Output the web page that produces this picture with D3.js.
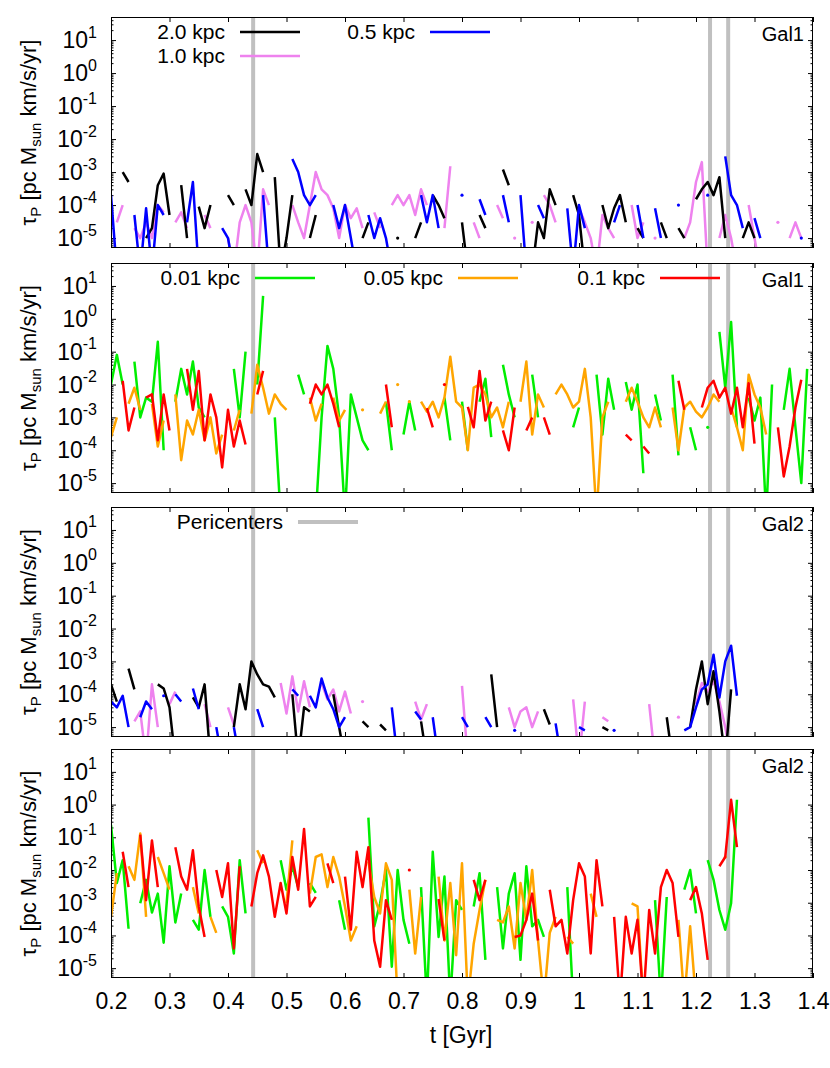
<!DOCTYPE html>
<html>
<head>
<meta charset="utf-8">
<script src="https://cdn.jsdelivr.net/npm/d3@7"></script>
<style>
body { margin: 0; background: #fff; }
svg { display: block; font-family: "Liberation Sans", Arial, sans-serif; }
</style>
</head>
<body>
<div id="chart"></div>
<script>
var _ = null;

// time grid of the series: t = tStart + i*tStep (Gyr)
var tStart = 0.2, tStep = 0.01;
var pericenters = [0.443, 1.224, 1.255];
var xTicks = [0.2, 0.3, 0.4, 0.5, 0.6, 0.7, 0.8, 0.9, 1.0, 1.1, 1.2, 1.3, 1.4];
var xTickLabels = ["0.2", "0.3", "0.4", "0.5", "0.6", "0.7", "0.8", "0.9", "1", "1.1", "1.2", "1.3", "1.4"];
var yExponents = [1, 0, -1, -2, -3, -4, -5];

// ---- Gal1, large radii ----
var gal1_r2p0 = [
  _, _, 1e-3, 5e-4, _, _, 1e-5, 2e-5, 4e-4, 9e-4,
  5e-5, _, 4e-4, 1e-5, _, 9e-5, 2e-5, 1e-4, _, _,
  2e-4, 1e-4, _, 3e-4, 1e-4, 3.5e-3, 1e-3, _, 7e-4, 1e-6,
  1e-5, 2e-4, _, _, 1e-5, 5e-5, _, _, _, _,
  _, _, _, 1e-5, 3e-5, _, _, _, _, 1e-5,
  _, _, 1e-5, 3e-5, _, 2e-4, 1e-4, 4e-5, _, _,
  3e-5, 1e-6, _, 5e-5, 2e-5, _, _, 1.2e-3, 4e-4, _,
  _, _, 1e-6, 3e-5, 1e-5, 3e-4, 1e-4, _, _, 2e-4,
  5e-5, 1e-6, _, _, 1e-4, 2e-5, 8e-5, 2e-4, 3e-5, _,
  2e-5, 1e-5, _, _, 3e-5, 1e-5, _, 2e-5, 1e-5, _,
  1.5e-4, 3e-4, 5e-4, 2e-4, 7e-4, 1e-5, _, _, 1e-5, 3e-5,
  1e-5, _, _, _, _, _, _, _, _, _
];
var gal1_r1p0 = [
  _, 3e-5, 1e-4, _, 2e-5, 1e-5, 3e-5, 1e-5, 1e-4, 6e-5,
  _, 3e-5, 6e-5, 2e-5, _, _, 5e-5, 2e-5, _, _,
  1e-5, 1e-6, 3e-5, 1e-4, 3e-5, 1e-6, 3e-4, 1e-4, _, _,
  _, 1e-4, 3e-5, 1e-5, 1e-4, 1e-3, 3e-4, 2e-4, 8e-5, 1e-5,
  1e-4, 4e-5, 8e-5, 2e-5, _, 6e-5, 2e-5, _, 1e-4, 2e-4,
  1e-4, 2e-4, 5e-5, 3e-4, 1e-4, _, _, 2e-5, 1.5e-3, _,
  _, _, 3e-5, 1e-5, _, _, 1e-4, 4e-5, _, 1e-5,
  _, _, 3e-5, _, 2e-4, 1e-4, 3e-5, _, _, _,
  8e-5, 3e-5, 1e-5, 1e-6, 5e-5, 2e-5, 1e-5, _, _, 1e-4,
  1e-5, 3e-5, _, 1e-5, _, _, _, _, 1e-5, 3e-5,
  5e-4, 2e-3, 1e-6, _, 1e-5, 5e-5, 1e-5, 1e-6, _, 1e-4,
  1e-5, 1e-6, _, _, 3e-5, _, 1e-5, 3e-5, 1e-5, _
];
var gal1_r0p5 = [
  2e-4, 1e-6, _, _, 5e-5, 1e-6, 8e-5, 1e-6, 1e-4, 5e-5,
  _, 1e-6, _, 3e-5, 5e-4, 1e-6, _, _, _, 2e-5,
  1e-5, 1e-6, _, _, _, _, 2e-4, 1e-6, _, _,
  _, 2.5e-3, 1e-3, 2e-4, 1e-4, 2e-4, _, _, 1e-4, 2e-5,
  1e-4, 1e-5, 1e-6, _, 5e-5, 1e-5, 4e-5, 1e-5, 1e-6, _,
  _, _, _, 2e-4, 3e-5, 2e-4, 2e-5, _, _, _,
  2e-4, _, _, 1.5e-4, 5e-5, _, _, 2e-4, 3e-5, _,
  2e-4, 1e-6, _, 1e-4, 4e-5, _, _, _, 8e-5, 1e-6,
  1e-4, 2e-5, _, _, _, _, 3e-5, 1e-4, _, _,
  1e-4, 1e-5, _, 8e-5, 1e-5, _, _, 1e-4, _, _,
  _, _, 2e-4, _, _, 3e-3, 2e-4, 1e-4, 2e-5, _,
  4e-5, 1e-5, _, _, _, _, _, _, 1e-5, _
];

// ---- Gal1, small radii ----
var gal1_r0p01 = [
  1e-2, 8e-2, 1e-2, _, 5e-2, 1e-3, 4e-3, 3e-3, 2e-1, 1e-4,
  _, 3e-3, 3e-2, 5e-3, 5e-2, 2e-3, 1e-3, _, _, _,
  _, 3e-2, 1e-3, 1e-1, _, 1e-2, 5, _, 1e-3, 1e-6,
  _, _, 2e-2, 5e-3, _, 1e-6, 1e-3, 1.5e-1, 3e-2, 1e-3,
  1e-6, 5e-3, 1e-3, 2e-4, 1e-4, _, _, 3e-3, 1e-4, _,
  3e-4, 3e-3, 4e-4, _, _, _, _, 4e-3, 2e-4, _,
  3e-3, 1e-4, _, 3e-3, 1.5e-2, 2.5e-4, _, 4e-2, 5e-3, 1e-3,
  _, _, 2e-2, 1e-3, _, _, _, _, _, 5e-4,
  2e-3, _, _, 2e-2, 3e-4, 1.5e-2, 1.7e-3, _, 1.2e-2, 1.7e-3,
  1e-2, 2e-5, _, 5e-3, 8e-4, _, 2e-2, 7e-5, _, 5e-4,
  1e-4, _, 5e-4, _, 4e-1, 8e-3, 8e-1, 5e-4, _, 4e-3,
  8e-4, 4e-3, 1e-6, 1e-2, _, 1.7e-3, 3e-2, 5e-4, 1e-5, 3e-2
];
var gal1_r0p05 = [
  2.5e-4, 1e-3, _, 2.6e-3, 8e-3, 1.7e-3, _, 2.6e-3, 1.3e-4, 8e-4,
  _, 5e-3, 5e-5, 8e-4, 3e-4, 1.7e-3, 2e-4, 1e-3, 8e-5, 3e-4,
  _, 4e-4, 1.7e-3, _, 1.3e-3, 4e-2, 8e-3, 1.3e-3, 5e-3, 2.6e-3,
  1.7e-3, _, _, _, 4e-3, 8e-4, 2.6e-3, _, 4e-3, 8e-4,
  1.7e-3, _, _, 1.7e-3, _, _, 1.3e-3, 3e-3, _, 1e-2,
  _, 3e-3, _, 3e-3, 1.5e-3, 3e-3, 1e-3, 4e-3, 7e-2, 3e-3,
  2e-3, 1e-4, 8e-3, 1e-2, 5e-3, 1e-3, 2e-3, 5e-4, 3e-3, _,
  3e-3, 5e-2, 3e-4, 5e-3, 2e-3, _, 5e-3, 1e-2, 5e-3, 2e-3,
  3e-3, 3e-2, 1e-3, 1e-6, 1e-3, 3e-3, _, _, 3e-3, 8e-3,
  3e-3, 1e-3, 5e-4, 2e-3, 5e-4, _, 2e-3, 1e-4, 2e-3, 3e-3,
  1.5e-3, 1e-3, 2e-3, 5e-3, 3e-3, _, 2e-3, 5e-4, 1e-4, 2e-2,
  5e-3, 2e-3, 3e-4, _, _, _, _, _, _, _
];
var gal1_r0p1 = [
  _, _, 1.3e-2, 4e-4, 2e-3, _, 4e-3, 5e-3, 2e-4, 5e-3,
  4e-4, _, _, 3e-2, 1.7e-3, 2.6e-2, 2e-4, 5e-3, 1e-3, 3e-5,
  1.7e-3, 1.3e-4, 8e-4, 1.5e-4, _, 5e-3, 2.6e-2, _, _, _,
  _, _, _, _, 2.6e-3, 1e-2, 5e-3, 1e-2, 2.6e-3, 5e-4,
  _, _, _, _, _, _, _, 1e-2, 5e-4, _,
  _, _, _, _, 1.9e-3, 5e-4, _, 1e-2, _, _,
  _, 2.1e-3, 5e-4, 2.6e-2, 8e-4, 3e-3, _, 4e-4, 1e-4, 2e-3,
  _, 4e-4, 1e-3, _, 1e-3, 3e-4, _, _, _, _,
  _, _, _, _, _, _, _, _, 3e-4, 2e-4,
  _, 1.3e-4, 8e-5, _, _, _, _, 1.3e-2, 1.7e-3, _,
  _, 2e-3, 8e-3, 1.3e-2, 4e-3, 8e-3, 1.3e-3, 8e-3, 5e-4, 1.1e-2,
  1.6e-4, _, _, _, 5e-4, 1.6e-5, 1.3e-4, 2e-3, 1.4e-2, _
];

// ---- Gal2, large radii ----
var gal2_r2p0 = [
  2e-4, 6e-5, _, 6e-4, 1.4e-4, _, _, _, 2e-4, 1.5e-4,
  4e-5, 1e-6, _, _, 8e-5, 4e-5, 2e-4, 1e-6, _, _,
  _, 1e-5, 2e-4, 3.5e-5, 1e-3, 4e-4, 2e-4, 1.7e-4, 8e-5, _,
  _, 1e-4, 1e-6, 4e-5, 3e-5, _, _, _, 1e-4, 1e-5,
  1e-6, _, _, 1.5e-5, 1e-5, _, 1.2e-5, 8e-6, _, _,
  _, _, _, 1.5e-5, 1e-6, _, _, _, _, _,
  _, _, _, _, _, 4e-4, 1e-5, _, _, _,
  _, _, _, _, 3.5e-5, 1.2e-5, _, _, _, _,
  _, _, _, _, 1e-5, 8e-6, _, _, _, _,
  _, _, _, _, _, 2e-5, 1e-6, _, _, 1e-5,
  1.4e-4, 1e-3, 5e-5, 5e-4, 3e-5, 1e-6, 1.4e-4
];
var gal2_r1p0 = [
  _, _, _, _, 1.5e-5, 3e-5, 1e-6, 2e-4, 1e-5, _,
  5e-5, 1.2e-4, _, _, _, _, 5e-5, 1e-5, _, _,
  4e-5, 1.2e-5, _, _, _, _, _, _, _, 2.2e-4,
  2.6e-5, 3.5e-4, 3e-5, 2.5e-4, 4e-5, _, 2.2e-4, 7e-5, 1.4e-4, 3e-5,
  1.2e-4, 2.6e-5, _, 6e-5, _, _, _, _, _, _,
  _, _, 6e-5, 1.7e-5, 5e-5, _, _, _, _, _,
  1.8e-4, 1e-6, _, _, _, _, _, _, 4e-5, 1e-5,
  3e-5, 4e-5, 1e-5, 3e-5, _, _, _, _, _, 7e-5,
  1e-6, 6e-5, _, _, 2e-5, 1.5e-5, _, _, _, _,
  _, _, 5e-5, 1e-6, _, _, _, 2e-5, _, _,
  5e-5, 2.2e-4, 1.2e-4, 2.6e-4, 6e-5, 1e-5, 1e-6
];
var gal2_r0p5 = [
  6e-5, 4e-5, 9e-5, 1e-5, _, 2e-5, 6e-5, 3.5e-5, _, 9e-5,
  _, 1e-4, 6e-5, _, 1.5e-4, 3.5e-5, _, _, 1e-5, 1e-6,
  _, 1e-5, 1e-6, _, _, 3.5e-5, 1e-5, _, _, _,
  _, 1.4e-4, 9e-5, _, 9e-5, 4e-5, 3e-4, 8e-5, 3.5e-5, 1e-5,
  2e-5, _, _, _, _, _, _, _, 4e-5, 1e-6,
  _, _, 3e-5, 1.7e-5, _, 2e-5, 1e-6, _, _, _,
  2e-5, 1e-5, _, _, 2e-5, 1e-5, _, _, _, 8e-6,
  _, _, _, _, _, _, 1.3e-5, 1e-6, _, _,
  1e-5, 8e-6, _, _, _, _, 8e-6, _, _, _,
  _, _, _, _, _, _, _, _, 8e-6, 1e-5,
  4e-5, 1.4e-4, 2e-4, 1.6e-3, 8e-5, 1e-3, 3e-3, 9e-5
];

// ---- Gal2, small radii ----
var gal2_r0p01 = [
  2.4e-1, 4e-3, 2e-2, 1.6e-4, _, 9.6e-4, 5e-3, 5e-4, 1.9e-3, 6e-5,
  1.3e-2, 2.5e-4, 1.9e-3, _, 3e-4, 1.5e-4, 1e-2, 3.7e-4, _, 7.7e-4,
  3.7e-4, 2.8e-5, 2e-2, 4.7e-4, _, _, _, _, _, 2e-2,
  2.5e-3, 1.3e-2, 3e-3, _, 4e-3, 2e-3, _, _, _, 1.2e-3,
  1.5e-4, _, _, _, 4e-1, 1.9e-4, 9.6e-4, 1e-2, 1.1e-5, 1e-2,
  3e-4, 5.6e-5, _, 3e-3, 1e-6, 3.6e-2, 9e-5, 6.3e-3, 1e-6, 1.2e-3,
  6e-4, _, 7.7e-4, 8e-3, 1.8e-5, _, 3e-3, 4e-5, 1.9e-3, 8e-3,
  1.8e-5, 1.3e-2, 1.9e-4, 3e-4, 9e-5, _, _, _, 3e-3, 1e-6,
  _, _, _, _, _, _, _, _, _, _,
  _, _, _, 1.2e-3, 1e-6, 1.5e-3, _, _, 2.5e-3, 1e-2,
  4.7e-4, _, 2e-2, 5e-3, 6e-4, 1.5e-4, 9.6e-4, 1.4
];
var gal2_r0p05 = [
  3.7e-4, 8e-3, _, 1.3e-2, 5e-3, 1.3e-1, 3.7e-4, _, 2.5e-2, 8e-3,
  2.5e-3, _, _, _, 3e-3, 4.7e-4, _, 3.7e-4, 1.2e-4, _,
  _, _, _, _, _, 4e-2, 1.6e-2, _, _, _,
  9.6e-4, 8e-2, _, _, 1.9e-3, 2.5e-2, 3e-2, 3e-3, 2.5e-2, 6.3e-3,
  7.7e-4, 7e-5, 1.9e-4, _, 1.8e-2, 1.5e-3, 4.7e-4, 1.6e-2, 5e-3, 1e-6,
  _, 2.5e-3, 2.8e-5, 1.5e-3, _, _, 6.3e-3, 7e-5, 4e-3, 2.5e-5,
  1.6e-2, 1e-6, 5.6e-5, 6e-4, 5e-3, _, 3e-4, 2.5e-4, 7.7e-4, 4e-5,
  4e-3, 3e-4, 1e-2, 7e-5, 1e-6, 1.2e-4, 3.7e-4, _, 9e-5, 5.6e-5,
  _, _, 1.9e-3, 3.7e-4, _, _, _, _, _, 9.6e-4,
  7.7e-4, 1e-6, _, _, _, _, _, 3e-4, 1e-6, 1.9e-4,
  1e-6, _, _, _, _, 2.5e-2
];
var gal2_r0p1 = [
  _, _, 3.6e-2, 3e-3, _, 1.2e-1, 1.2e-3, 8e-2, 3e-3, _,
  _, 5e-2, 6.3e-3, 2.5e-3, 4e-2, 7.7e-4, 9e-5, _, 1e-2, 1.5e-3,
  1.6e-2, 4e-5, 1.3e-2, _, 7.7e-4, 8e-3, 2.8e-2, 6.3e-3, 3.7e-4, 4e-3,
  4.7e-4, 2.5e-2, 2.5e-3, 1.8e-1, 7.7e-4, 1.5e-3, _, 1.6e-2, 4e-3, _,
  6.3e-3, 1.5e-4, 3.6e-2, 3e-3, 5e-2, 7e-5, 1.1e-5, 1.2e-3, 3e-4, _,
  _, 1e-2, _, _, _, _, 1.3e-3, 7e-5, _, _,
  _, _, 5e-3, 1.2e-3, 5e-3, _, _, _, _, 9e-5,
  1e-4, 3e-4, 1.9e-3, 7e-5, _, 2.5e-3, 1.9e-4, 3e-4, 2.8e-5, 1.2e-3,
  1.6e-2, 6.3e-3, 2.8e-5, 2e-2, 7.7e-4, _, 3.7e-4, 1e-6, 3.7e-4, 2.8e-5,
  3e-4, 1e-6, 6e-4, 2.8e-5, 3e-3, 1e-2, 4e-3, 9e-5, _, 1.2e-3,
  3e-3, 4.7e-4, 1.8e-5, _, 1.3e-2, 2.5e-2, 1.4, 5e-2
];

var C = {black: "#000000", violet: "#ee82ee", blue: "#0000ff",
         green: "#00ee00", orange: "#ffa500", red: "#ff0000", peri: "#c0c0c0"};

var panels = [
  { top: 17, bottom: 248, tag: "Gal1",
    series: [
      {name: "1.0 kpc", color: C.violet, values: gal1_r1p0},
      {name: "2.0 kpc", color: C.black, values: gal1_r2p0},
      {name: "0.5 kpc", color: C.blue, values: gal1_r0p5}],
    legend: [
      {text: "2.0 kpc", color: C.black, x: 225, row: 0},
      {text: "1.0 kpc", color: C.violet, x: 225, row: 1},
      {text: "0.5 kpc", color: C.blue, x: 415, row: 0}] },
  { top: 263, bottom: 493, tag: "Gal1",
    series: [
      {name: "0.01 kpc", color: C.green, values: gal1_r0p01},
      {name: "0.05 kpc", color: C.orange, values: gal1_r0p05},
      {name: "0.1 kpc", color: C.red, values: gal1_r0p1}],
    legend: [
      {text: "0.01 kpc", color: C.green, x: 240, row: 0},
      {text: "0.05 kpc", color: C.orange, x: 443, row: 0},
      {text: "0.1 kpc", color: C.red, x: 645, row: 0}] },
  { top: 507, bottom: 737, tag: "Gal2",
    series: [
      {name: "1.0 kpc", color: C.violet, values: gal2_r1p0},
      {name: "2.0 kpc", color: C.black, values: gal2_r2p0},
      {name: "0.5 kpc", color: C.blue, values: gal2_r0p5}],
    legend: [
      {text: "Pericenters", color: C.peri, x: 283, row: 0, w: 4}] },
  { top: 749, bottom: 978, tag: "Gal2",
    series: [
      {name: "0.01 kpc", color: C.green, values: gal2_r0p01},
      {name: "0.05 kpc", color: C.orange, values: gal2_r0p05},
      {name: "0.1 kpc", color: C.red, values: gal2_r0p1}],
    legend: [] }
];

var width = 830, height = 1068;
var x0 = 111, x1 = 813;

var svg = d3.select("#chart").append("svg")
    .attr("width", width)
    .attr("height", height);

var x = d3.scaleLinear().domain([0.2, 1.4]).range([x0, x1]);

var majorY = yExponents.map(function(e){ return Math.pow(10, e); });
var minorY = [];
for (var e = -6; e <= 1; e++) {
  for (var m = 2; m <= 9; m++) {
    var v = m * Math.pow(10, e);
    if (v > 5e-6 && v < 50) minorY.push(v);
  }
}

panels.forEach(function(p, pi){
  var y = d3.scaleLog().domain([5e-6, 50]).range([p.bottom, p.top]);
  var g = svg.append("g");

  var clipId = "clip" + pi;
  svg.append("clipPath").attr("id", clipId)
    .append("rect")
      .attr("x", x0).attr("y", p.top)
      .attr("width", x1 - x0).attr("height", p.bottom - p.top);

  // pericenter passages
  g.selectAll(".peri").data(pericenters).enter().append("line")
      .attr("x1", function(d){ return x(d); })
      .attr("x2", function(d){ return x(d); })
      .attr("y1", p.top).attr("y2", p.bottom)
      .attr("stroke", C.peri).attr("stroke-width", 4);

  // ticks (inward, mirrored)
  var noDomain = function(s){ s.select(".domain").remove(); };
  g.append("g").attr("transform", "translate(" + x0 + ",0)")
    .call(d3.axisLeft(y).tickValues(majorY).tickSize(-5).tickFormat("")).call(noDomain);
  g.append("g").attr("transform", "translate(" + x0 + ",0)")
    .call(d3.axisLeft(y).tickValues(minorY).tickSize(-2.5).tickFormat("")).call(noDomain);
  g.append("g").attr("transform", "translate(" + x1 + ",0)")
    .call(d3.axisRight(y).tickValues(majorY).tickSize(-5).tickFormat("")).call(noDomain);
  g.append("g").attr("transform", "translate(" + x1 + ",0)")
    .call(d3.axisRight(y).tickValues(minorY).tickSize(-2.5).tickFormat("")).call(noDomain);
  g.append("g").attr("transform", "translate(0," + p.top + ")")
    .call(d3.axisTop(x).tickValues(xTicks).tickSize(-5).tickFormat("")).call(noDomain);
  var bottomAxis = g.append("g").attr("transform", "translate(0," + p.bottom + ")")
    .call(d3.axisBottom(x).tickValues(xTicks).tickSize(-5).tickPadding(15)
      .tickFormat(pi === panels.length - 1 ? function(d, i){ return xTickLabels[i]; } : ""))
    .call(noDomain);
  bottomAxis.selectAll("text")
    .attr("font-size", 23).attr("font-family", "Liberation Sans, Arial, sans-serif");

  // y tick labels 10^n
  yExponents.forEach(function(ex){
    var t = g.append("text")
        .attr("x", 97).attr("y", y(Math.pow(10, ex)) + 8)
        .attr("text-anchor", "end").attr("font-size", 23);
    t.append("tspan").text("10");
    t.append("tspan").attr("dy", -10.5).attr("font-size", 16).text(String(ex));
  });

  // y axis title
  var yl = g.append("text")
      .attr("transform", "translate(36," + ((p.top + p.bottom) / 2) + ") rotate(-90)")
      .attr("text-anchor", "middle").attr("font-size", 22);
  yl.append("tspan").text("\u03c4");
  yl.append("tspan").attr("dy", 5).attr("font-size", 15).text("P");
  yl.append("tspan").attr("dy", -5).text(" [pc M");
  yl.append("tspan").attr("dy", 5).attr("font-size", 15).text("sun");
  yl.append("tspan").attr("dy", -5).text(" km/s/yr]");

  // data
  var line = d3.line()
      .defined(function(d){ return d.v != null; })
      .x(function(d){ return x(d.t); })
      .y(function(d){ return y(d.v); });

  var dg = g.append("g").attr("clip-path", "url(#" + clipId + ")");
  p.series.forEach(function(s){
    var pts = s.values.map(function(v, i){ return {t: tStart + i * tStep, v: v}; });
    dg.append("path")
      .datum(pts)
      .attr("d", line)
      .attr("fill", "none")
      .attr("stroke", s.color)
      .attr("stroke-width", 2.5)
      .attr("stroke-linejoin", "round");
    var lonely = pts.filter(function(d, i){
      return d.v != null && (i === 0 || pts[i-1].v == null) && (i === pts.length - 1 || pts[i+1].v == null);
    });
    dg.selectAll(null).data(lonely).enter().append("circle")
      .attr("cx", function(d){ return x(d.t); })
      .attr("cy", function(d){ return y(d.v); })
      .attr("r", 1.6)
      .attr("fill", s.color);
  });

  // legend
  p.legend.forEach(function(l){
    var by = p.top + 22 + l.row * 24;
    g.append("text").attr("x", l.x).attr("y", by)
      .attr("text-anchor", "end").attr("font-size", 21).text(l.text);
    g.append("line")
      .attr("x1", l.x + 15).attr("x2", l.x + 75)
      .attr("y1", by - 7).attr("y2", by - 7)
      .attr("stroke", l.color).attr("stroke-width", l.w || 2.5);
  });

  // galaxy tag
  g.append("text").attr("x", 804).attr("y", p.top + 24)
    .attr("text-anchor", "end").attr("font-size", 20).text(p.tag);

  // frame
  g.append("rect")
    .attr("x", x0 + 0.5).attr("y", p.top + 0.5)
    .attr("width", x1 - x0 - 1).attr("height", p.bottom - p.top - 1)
    .attr("fill", "none").attr("stroke", "#000").attr("stroke-width", 1);
});

svg.append("text")
  .attr("x", 461).attr("y", 1043)
  .attr("text-anchor", "middle").attr("font-size", 23)
  .text("t [Gyr]");
</script>
</body>
</html>
